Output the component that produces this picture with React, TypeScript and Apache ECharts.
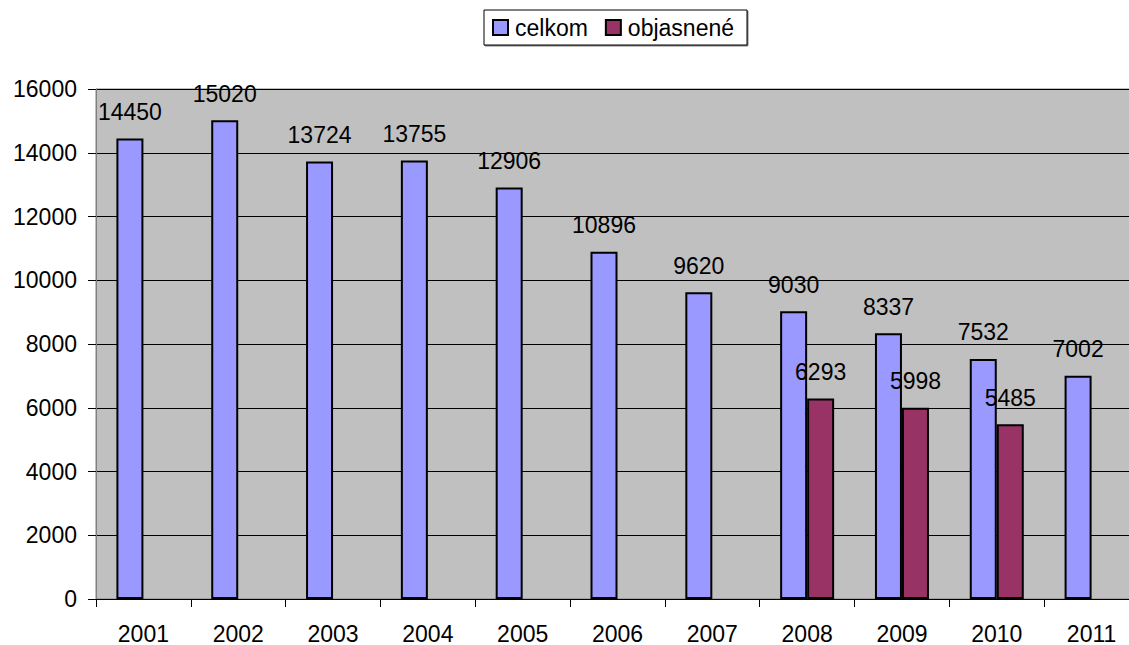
import React, { useEffect, useRef } from "react";
import * as echarts from "echarts";

const years = ["2001", "2002", "2003", "2004", "2005", "2006", "2007", "2008", "2009", "2010", "2011"];
const celkom = [14450, 15020, 13724, 13755, 12906, 10896, 9620, 9030, 8337, 7532, 7002];
const objasnene = [null, null, null, null, null, null, null, 6293, 5998, 5485, null];
const seriesNames = ["celkom", "objasnené"];

const FONT = "Arial, 'Liberation Sans', sans-serif";
const FS = 23;

export default function App() {
  const ref = useRef<HTMLDivElement>(null);
  useEffect(() => {
    if (!ref.current) return;
    const chart = echarts.init(ref.current, null, { renderer: "svg" });
    const label = {
      show: true,
      position: "top",
      distance: 15,
      fontSize: FS,
      color: "#000",
      fontFamily: FONT,
    };
    chart.setOption({
      animation: false,
      textStyle: { fontFamily: FONT },
      legend: {
        left: 484,
        top: 10,
        padding: [6, 13, 6, 8],
        borderColor: "#000",
        borderWidth: 1,
        backgroundColor: "#fff",
        shadowColor: "rgba(0,0,0,0.5)",
        shadowOffsetX: 1,
        shadowOffsetY: 1,
        itemWidth: 15,
        itemHeight: 15,
        itemGap: 17,
        icon: "rect",
        textStyle: { fontSize: FS, color: "#000", fontFamily: FONT, padding: [0, 0, 0, 2] },
        data: seriesNames,
      },
      grid: {
        left: 96,
        top: 89,
        width: 1043,
        height: 512,
        show: true,
        backgroundColor: "#C0C0C0",
        borderColor: "#808080",
        borderWidth: 1,
      },
      xAxis: {
        type: "category",
        data: years,
        axisLine: { show: true, lineStyle: { color: "#000", width: 1 } },
        axisTick: { show: true, length: 8, lineStyle: { color: "#000" } },
        axisLabel: { fontSize: FS, color: "#000", margin: 23, fontFamily: FONT },
      },
      yAxis: {
        type: "value",
        min: 0,
        max: 16000,
        interval: 2000,
        axisLine: { show: true, lineStyle: { color: "#808080", width: 1 } },
        axisTick: { show: true, length: 8, lineStyle: { color: "#000" } },
        axisLabel: {
          fontSize: FS,
          color: "#000",
          margin: 19,
          fontFamily: FONT,
          formatter: (v: number) => String(v),
        },
        splitLine: { show: true, lineStyle: { color: "#000", width: 1 } },
      },
      series: [
        {
          name: seriesNames[0],
          type: "bar",
          data: celkom,
          barWidth: 27,
          barGap: "0%",
          itemStyle: { color: "#9999FF", borderColor: "#000", borderWidth: 2 },
          label,
        },
        {
          name: seriesNames[1],
          type: "bar",
          data: objasnene,
          barWidth: 27,
          barGap: "0%",
          itemStyle: { color: "#993366", borderColor: "#000", borderWidth: 2 },
          label,
        },
      ],
    });
    return () => chart.dispose();
  }, []);
  return (
    <div style={{ position: "fixed", left: 0, top: 0, width: 1129, height: 645, overflow: "hidden", background: "#fff" }}>
      <div ref={ref} style={{ width: 1160, height: 645 }} />
    </div>
  );
}
